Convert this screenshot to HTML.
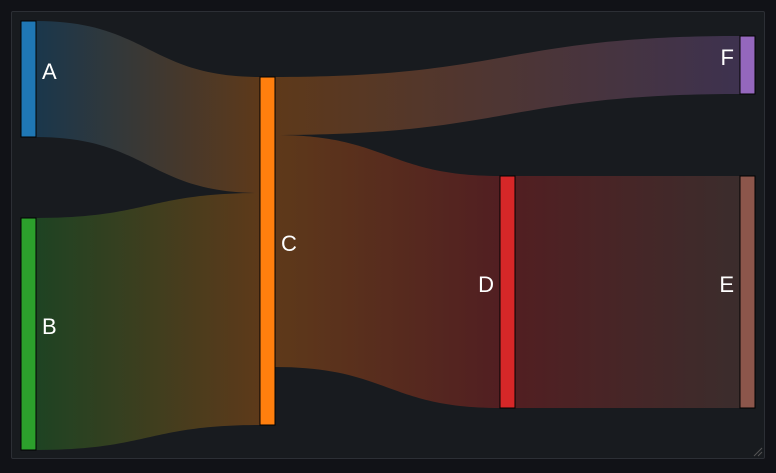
<!DOCTYPE html>
<html><head><meta charset="utf-8"><style>
html,body{margin:0;padding:0;background:#111217;width:776px;height:473px;overflow:hidden}
#panel{position:absolute;left:11px;top:11px;width:752px;height:446px;background:#181b1f;border:1px solid #2c2f35;border-radius:2px}
svg{position:absolute;left:0;top:0}
text{font-family:"Liberation Sans",sans-serif;font-size:22px;fill:#fff}
</style></head><body>
<div id="panel"></div>
<svg id="chart" width="776" height="473">
<defs id="defs"></defs>
<g id="links"></g><g id="nodes"></g><g id="labels"></g>
<path d="M754 456 L762 448 M758 456 L762 452" stroke="#555" stroke-width="1"/>
</svg>
<script>
const nodeNames = ["A","B","C","D","E","F"];
const nodeColors = ["#1f77b4","#2ca02c","#ff7f0e","#d62728","#8c564b","#9467bd"];
const linkSources = ["A","B","C","C","D"];
const linkTargets = ["C","C","F","D","E"];
const linkValues = [20,40,10,40,40];
// layout
const colX = {A:21,B:21,C:260,D:500,E:740,F:740};
const nodeTop = {A:21,B:218,C:77,D:176,E:176,F:36};
const labelSide = {A:"right",B:"right",C:"right",D:"left",E:"left",F:"left"};
const pxPerUnit = 5.8, nodeW = 15;
const NS="http://www.w3.org/2000/svg";
const inSum={}, outSum={};
nodeNames.forEach(n=>{inSum[n]=0;outSum[n]=0;});
linkValues.forEach((v,i)=>{outSum[linkSources[i]]+=v;inSum[linkTargets[i]]+=v;});
const val=n=>Math.max(inSum[n],outSum[n]);
const color=n=>nodeColors[nodeNames.indexOf(n)];
const outOff={}, inOff={};
nodeNames.forEach(n=>{outOff[n]=0;inOff[n]=0;});
const defs=document.getElementById('defs');
linkValues.forEach((v,i)=>{
  const s=linkSources[i], t=linkTargets[i], h=v*pxPerUnit;
  const x0=colX[s]+nodeW, x1=colX[t];
  const y0=nodeTop[s]+outOff[s], y1=nodeTop[t]+inOff[t];
  outOff[s]+=h; inOff[t]+=h;
  const g=document.createElementNS(NS,'linearGradient');
  g.setAttribute('id','g'+i);g.setAttribute('gradientUnits','userSpaceOnUse');
  g.setAttribute('x1',x0);g.setAttribute('x2',x1);g.setAttribute('y1',0);g.setAttribute('y2',0);
  g.innerHTML=`<stop offset="0" stop-color="${color(s)}"/><stop offset="1" stop-color="${color(t)}"/>`;
  defs.appendChild(g);
  const mx=(x0+x1)/2;
  const p=document.createElementNS(NS,'path');
  p.setAttribute('d',`M${x0},${y0} C${mx},${y0} ${mx},${y1} ${x1},${y1} L${x1},${y1+h} C${mx},${y1+h} ${mx},${y0+h} ${x0},${y0+h} Z`);
  p.setAttribute('fill',`url(#g${i})`);p.setAttribute('fill-opacity','0.3');
  
  
  document.getElementById('links').appendChild(p);
});
nodeNames.forEach(n=>{
  const h=val(n)*pxPerUnit;
  const r=document.createElementNS(NS,'rect');
  r.setAttribute('x',colX[n]);r.setAttribute('y',nodeTop[n]);r.setAttribute('width',nodeW);r.setAttribute('height',h);
  r.setAttribute('fill',color(n));r.setAttribute('stroke','#000');r.setAttribute('stroke-width','1');
  
  
  document.getElementById('nodes').appendChild(r);
  const tx=document.createElementNS(NS,'text');
  const right=labelSide[n]==="right";
  tx.setAttribute('x',right?colX[n]+nodeW+6:colX[n]-6);
  tx.setAttribute('y',nodeTop[n]+h/2);
  tx.setAttribute('text-anchor',right?'start':'end');
  tx.textContent=n;
  
  
  document.getElementById('labels').appendChild(tx);
});
</script>
</body></html>
